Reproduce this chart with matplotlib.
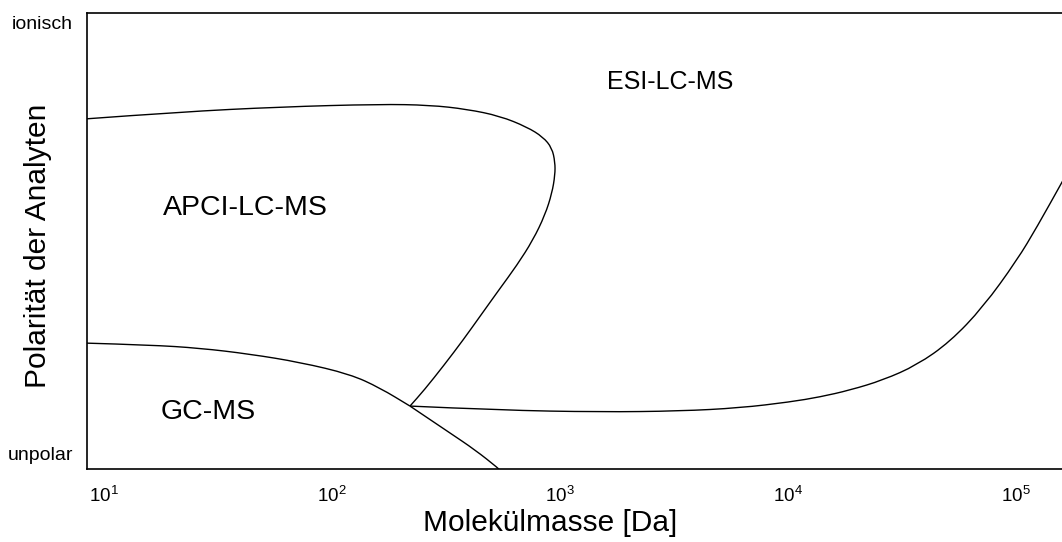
import matplotlib
matplotlib.use("Agg")
import numpy as np
import matplotlib.pyplot as plt
from matplotlib.path import Path
from matplotlib.patches import PathPatch

plt.rcParams['font.family'] = ['Liberation Sans', 'DejaVu Sans']

# Boundary APCI / ESI (mass in Da, relative polarity 0..1)
apci_esi_mass = [8.47, 21.7, 59.4, 163, 270, 393, 548, 720, 847, 927, 956, 956,
                 927, 864, 765, 651, 543, 453, 378, 312, 255, 221]
apci_esi_pol = [0.768, 0.783, 0.794, 0.800, 0.798, 0.789, 0.774, 0.750, 0.728,
                0.704, 0.673, 0.645, 0.605, 0.557, 0.502, 0.447, 0.393, 0.338,
                0.283, 0.228, 0.173, 0.138]

# Boundary GC / APCI, split at the junction
gc_upper_mass = [8.47, 16.0, 26.5, 43.9, 72.8, 120.5, 163, 221]
gc_upper_pol = [0.276, 0.272, 0.265, 0.252, 0.234, 0.208, 0.178, 0.138]
gc_lower_mass = [221, 331, 426, 538, 577]
gc_lower_pol = [0.138, 0.079, 0.042, 0.002, -0.013]

# Lower boundary ESI
esi_mass = [221, 548, 1505, 3377, 6191, 10257, 13887, 18795, 26240, 36980,
            51610, 72040, 101530, 124260, 159900, 191800]
esi_pol = [0.138, 0.129, 0.125, 0.127, 0.134, 0.147, 0.158, 0.173, 0.195,
           0.228, 0.279, 0.355, 0.458, 0.531, 0.629, 0.700]

regions = ['ESI-LC-MS', 'APCI-LC-MS', 'GC-MS']
region_mass = [3055, 41.8, 28.7]
region_pol = [0.849, 0.572, 0.125]
region_size = [18, 20.5, 20.5]

decades = [1, 2, 3, 4, 5]
pol_ticks = [0.035, 0.980]
pol_labels = ['unpolar', 'ionisch']


def smooth_path(mass, pol):
    # quadratic bezier through the midpoints, in log10 mass space
    pts = list(zip(np.log10(mass), pol))
    verts = [pts[0]]
    codes = [Path.MOVETO]
    for i in range(1, len(pts) - 1):
        mid = ((pts[i][0] + pts[i + 1][0]) / 2, (pts[i][1] + pts[i + 1][1]) / 2)
        verts += [pts[i], mid]
        codes += [Path.CURVE3, Path.CURVE3]
    verts.append(pts[-1])
    codes.append(Path.LINETO)
    return Path(verts, codes)


fig = plt.figure(figsize=(10.62, 5.42), dpi=100)
ax = fig.add_axes([87 / 1062, 73 / 542, 975 / 1062, 456 / 542])

for m, p in [(apci_esi_mass, apci_esi_pol), (gc_upper_mass, gc_upper_pol),
             (gc_lower_mass, gc_lower_pol), (esi_mass, esi_pol)]:
    ax.add_patch(PathPatch(smooth_path(m, p), fill=False, edgecolor='black',
                           lw=1.0, joinstyle='round'))

for name, m, p, fs in zip(regions, region_mass, region_pol, region_size):
    ax.text(np.log10(m), p, name, ha='center', va='center', fontsize=fs)

ax.set_xlim(np.log10(8.47), np.log10(159900))
ax.set_ylim(0, 1)
ax.set_xticks(decades)
ax.set_xticklabels([r'$\mathdefault{10^{%d}}$' % d for d in decades])
ax.set_yticks(pol_ticks)
ax.set_yticklabels(pol_labels)
ax.tick_params(axis='x', length=0, pad=12, labelsize=13.5)
ax.tick_params(axis='y', length=0, pad=10, labelsize=14)

ax.spines['right'].set_visible(False)
for s in ['left', 'top', 'bottom']:
    ax.spines[s].set_linewidth(1.2)

ax.set_xlabel('Molekülmasse [Da]', fontsize=21.5)
ax.xaxis.set_label_coords(0.475, -0.088)
ax.set_ylabel('Polarität der Analyten', fontsize=21.5)
ax.yaxis.set_label_coords(-0.036, 0.489)

fig.savefig('out.png', dpi=100)
